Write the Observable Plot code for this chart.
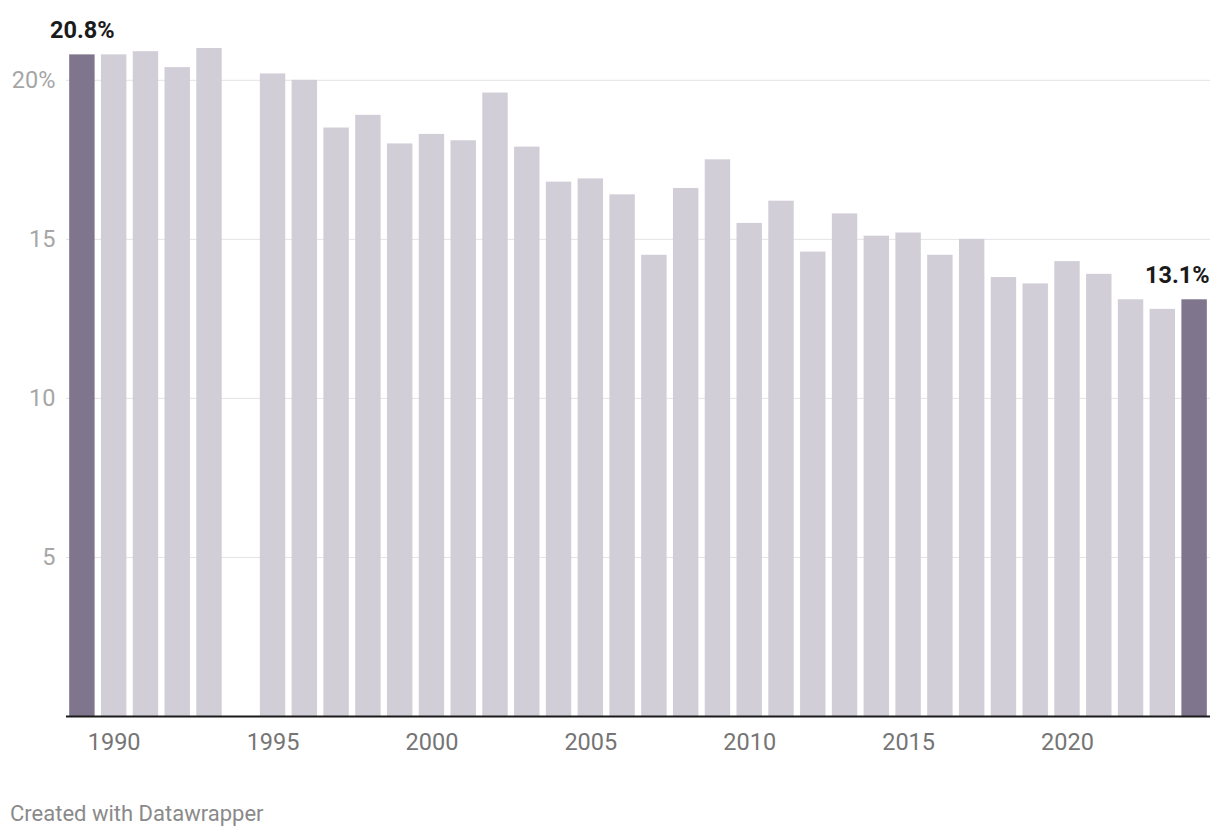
<!DOCTYPE html>
<html>
<head>
<meta charset="utf-8">
<script src="https://cdn.jsdelivr.net/npm/d3@7"></script>
<script src="https://cdn.jsdelivr.net/npm/@observablehq/plot@0.6"></script>
<style>
  html, body { margin: 0; padding: 0; background: #fff; }
  body { position: relative; width: 1220px; height: 838px; font-family: Roboto, "Noto Sans", sans-serif; }
  #chart { position: absolute; left: 0; top: 0; }
  #footer { position: absolute; left: 10px; top: 803px; font-size: 22px; line-height: 22px; color: #8a8a8a; }
</style>
</head>
<body>
<div id="chart"></div>
<div id="footer">Created with Datawrapper</div>
<script>
const years = [1989,1990,1991,1992,1993,1995,1996,1997,1998,1999,2000,2001,2002,2003,2004,2005,2006,2007,2008,2009,2010,2011,2012,2013,2014,2015,2016,2017,2018,2019,2020,2021,2022,2023,2024];
const values = [20.8,20.8,20.9,20.4,21.0,20.2,20.0,18.5,18.9,18.0,18.3,18.1,19.6,17.9,16.8,16.9,16.4,14.5,16.6,17.5,15.5,16.2,14.6,15.8,15.1,15.2,14.5,15.0,13.8,13.6,14.3,13.9,13.1,12.8,13.1];
const highlightYears = [1989, 2024];
const labelTexts = ["20.8%", "13.1%"];
const xTicks = [1990,1995,2000,2005,2010,2015,2020];
const yTicks = [5,10,15,20];

const data = years.map((y, i) => ({year: y, value: values[i], hl: highlightYears.includes(y)}));
const labels = highlightYears.map((y, i) => ({year: y, value: values[years.indexOf(y)], text: labelTexts[i]}));

const chart = Plot.plot({
  width: 1220,
  height: 770,
  marginLeft: 66,
  marginRight: 10,
  marginTop: 48,
  marginBottom: 54,
  style: {fontFamily: "Roboto, sans-serif", fontSize: "23.5px", background: "#fff", overflow: "visible"},
  x: {type: "band", domain: d3.range(1989, 2025), paddingInner: 0.2, paddingOuter: 0.1, round: false, label: null},
  y: {domain: [0, 21], label: null},
  marks: [
    Plot.gridY(yTicks, {stroke: "#e3e3e3", strokeOpacity: 1, strokeWidth: 1}),
    Plot.barY(data, {x: "year", y: "value", fill: d => d.hl ? "#7f758c" : "#d1ced8"}),
    Plot.ruleY([0], {stroke: "#1a1a1a", strokeWidth: 2}),
    Plot.axisY(yTicks, {tickSize: 0, tickPadding: 11, fill: "#a6a6a6", fontSize: 23.5, tickFormat: d => d === 20 ? "20%" : String(d), label: null}),
    Plot.axisX(xTicks, {tickSize: 0, tickPadding: 17, fill: "#757575", fontSize: 23.5, tickFormat: d => String(d), label: null}),
    Plot.text(labels.slice(0, 1), {x: "year", y: "value", text: "text", dy: -24, fontWeight: "bold", fontSize: 23.5, fill: "#1a1a1a"}),
    Plot.text(labels.slice(1), {x: "year", y: "value", text: "text", dy: -24, dx: 15, textAnchor: "end", fontWeight: "bold", fontSize: 23.5, fill: "#1a1a1a"})
  ]
});
document.getElementById("chart").appendChild(chart);
</script>
</body>
</html>
